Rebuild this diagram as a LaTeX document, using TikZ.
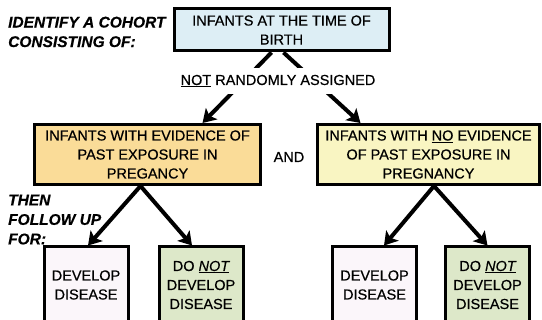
\documentclass[tikz,border=0pt]{standalone}
\usepackage{fontspec}
\setmainfont{Liberation Sans}[FakeBold=0.5]
\usetikzlibrary{arrows.meta,positioning}
\definecolor{skyfill}{HTML}{DDEEF5}
\definecolor{exposedfill}{HTML}{FADC98}
\definecolor{unexposedfill}{HTML}{F9F5C2}
\definecolor{diseasefill}{HTML}{FBF6FA}
\definecolor{healthyfill}{HTML}{DDE8C9}

\begin{document}
\begin{tikzpicture}[
  x=1pt, y=-1pt,
  font=\fontsize{14.5}{19}\selectfont,
  box/.style={draw=black, line width=3pt, align=center, inner sep=2pt},
  group/.style={box, minimum height=60pt},
  outcome/.style={box, minimum width=84pt, minimum height=76pt},
  note/.style={font=\fontsize{15.5}{19.5}\selectfont\bfseries\itshape,
    align=left, anchor=north west, inner sep=0pt},
  arr/.style={-{Stealth[length=13pt,width=16pt,inset=3pt]}, line width=4pt}
]
\useasboundingbox (0,0) rectangle (542,320);
% cohort at birth
\node[box, fill=skyfill, minimum width=215pt, minimum height=42pt] (birth)
  at (281.5,30) {INFANTS AT THE TIME OF\\BIRTH};
\node[note] (identify) at (8,16.5) {IDENTIFY A COHORT\\CONSISTING OF:};
% exposure groups
\node[group, fill=exposedfill, minimum width=226pt] (exposed) at (147.5,154.5)
  {INFANTS WITH EVIDENCE OF\\PAST EXPOSURE IN\\PREGANCY};
\node[group, fill=unexposedfill, minimum width=222pt] (unexposed) at (428.5,154.5)
  {INFANTS WITH \underline{NO} EVIDENCE\\OF PAST EXPOSURE IN\\PREGNANCY};
\node (and) at (289,157) {AND};
\draw[arr] ([xshift=-10pt]birth.south) -- ([xshift=55pt]exposed.north);
\draw[arr] ([xshift=2pt]birth.south) -- ([xshift=-68pt]unexposed.north);
\node[fill=white, inner sep=7pt] (assign) at (278,81) {\underline{NOT} RANDOMLY ASSIGNED};
% outcomes
\node[note] (follow) at (8,194.5) {THEN\\FOLLOW UP\\FOR:};
\node[outcome, fill=diseasefill] (expsick) at (86,285) {DEVELOP\\DISEASE};
\node[outcome, fill=healthyfill] (expwell) at (201,285)
  {DO \textit{\underline{NOT}}\\DEVELOP\\DISEASE};
\node[outcome, fill=diseasefill] (unexpsick) at (374.5,285) {DEVELOP\\DISEASE};
\node[outcome, fill=healthyfill] (unexpwell) at (487.5,285)
  {DO \textit{\underline{NOT}}\\DEVELOP\\DISEASE};
\draw[arr] ([xshift=-7pt]exposed.south) -- ([xshift=2pt]expsick.north);
\draw[arr] ([xshift=-7pt]exposed.south) -- ([xshift=-9pt]expwell.north);
\draw[arr] ([xshift=5.5pt]unexposed.south) -- ([xshift=9.5pt]unexpsick.north);
\draw[arr] ([xshift=5.5pt]unexposed.south) -- (unexpwell.north);
\end{tikzpicture}
\end{document}
